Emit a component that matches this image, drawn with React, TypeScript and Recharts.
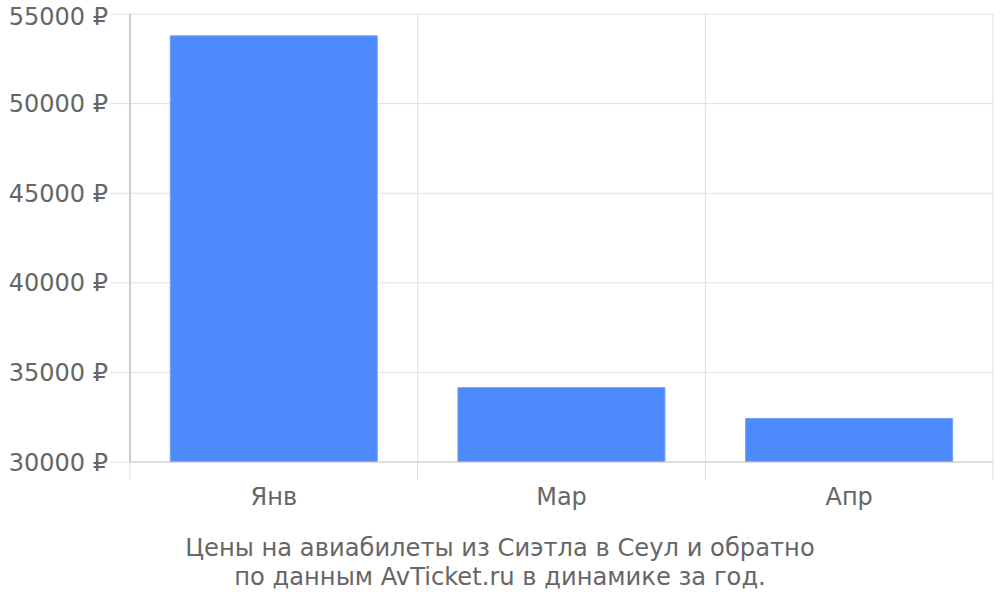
import React from 'react';
import { BarChart, Bar, XAxis, YAxis, CartesianGrid } from 'recharts';

const categories = ['Янв', 'Мар', 'Апр'];
const prices = [53780, 34150, 32430];
const yTicks = [30000, 35000, 40000, 45000, 50000, 55000];
const titleLines = ['Цены на авиабилеты из Сиэтла в Сеул и обратно', 'по данным AvTicket.ru в динамике за год.'];

const data = categories.map((c, i) => ({ name: c, price: prices[i] }));

const FONT = '"DejaVu Sans", sans-serif';
const TEXT = '#666666';

const TICK_SIZE = 18;

const CatTick = (props: any) => {
  const { x, y, payload, index, visibleTicksCount, width } = props;
  const band = width / visibleTicksCount;
  const axisY = y - TICK_SIZE;
  const left = x - band / 2;
  const right = x + band / 2;
  return (
    <g>
      <line x1={left} x2={left} y1={axisY} y2={axisY + TICK_SIZE} stroke="#dddddd" strokeWidth={1} />
      {index === visibleTicksCount - 1 && (
        <line x1={right} x2={right} y1={axisY} y2={axisY + TICK_SIZE} stroke="#dddddd" strokeWidth={1} />
      )}
      <text x={x} y={axisY + 43} textAnchor="middle" fill={TEXT} fontSize={24} fontFamily={FONT}>
        {payload.value}
      </text>
    </g>
  );
};

export default function App() {
  return (
    <div style={{ position: 'absolute', left: 0, top: 0, width: 1000, height: 600, background: '#fff' }}>
      <BarChart
        width={1000}
        height={600}
        data={data}
        margin={{ top: 14, right: 7, bottom: 108, left: 0 }}
        barCategoryGap="14%"
      >
        <CartesianGrid
          stroke="#e0e0e0"
          verticalCoordinatesGenerator={({ offset }: any) =>
            categories.map((_, i) => offset.left + (i * offset.width) / categories.length).concat([offset.left + offset.width])
          }
        />
        <XAxis
          dataKey="name"
          height={30}
          tickSize={TICK_SIZE}
          tickMargin={0}
          tickLine={false}
          axisLine={{ stroke: '#cccccc' }}
          tick={<CatTick />}
          interval={0}
        />
        <YAxis
          width={130}
          domain={[30000, 55000]}
          ticks={yTicks}
          allowDataOverflow
          tickSize={20}
          tickMargin={2}
          tickLine={{ stroke: '#e0e0e0' }}
          axisLine={{ stroke: '#aaaaaa' }}
          tickFormatter={(v: number) => `${v} ₽`}
          tick={{ fill: TEXT, fontSize: 24, fontFamily: FONT }}
        />
        <Bar dataKey="price" fill="#4d8afc" stroke="#6f9ffc" strokeWidth={1} isAnimationActive={false} />
      </BarChart>
      <div
        style={{
          position: 'absolute',
          left: 0,
          top: 534,
          width: 1000,
          textAlign: 'center',
          fontFamily: FONT,
          fontSize: 24.2,
          lineHeight: '29px',
          color: TEXT,
        }}
      >
        {titleLines.map((l) => (
          <div key={l}>{l}</div>
        ))}
      </div>
    </div>
  );
}
